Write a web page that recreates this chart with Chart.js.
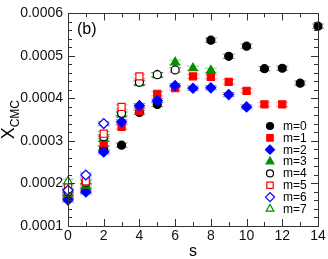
<!DOCTYPE html>
<html><head><meta charset="utf-8">
<script src="https://cdn.jsdelivr.net/npm/chart.js@4/dist/chart.umd.min.js"></script>
<style>html,body{margin:0;padding:0;background:#fff;}canvas{display:block;}</style>
</head><body>
<canvas id="c" width="328" height="259"></canvas>
<script>
const sValues = [0,1,2,3,4,5,6,7,8,9,10,11,12,13,14];
const xTicks = [0,2,4,6,8,10,12,14];
const yTicks = [0.0001,0.0002,0.0003,0.0004,0.0005,0.0006];
const seriesNames = ['m=0','m=1','m=2','m=3','m=4','m=5','m=6','m=7'];
const m0 = [0.000167,0.000183,0.000282,0.000290,0.000367,0.000386,null,null,0.000537,0.000499,0.000523,0.000470,0.000471,0.000436,0.000570];
const m1 = [0.000170,0.000189,0.000294,0.000333,0.000371,0.000411,0.000424,0.000452,0.000451,0.000439,0.000418,0.000386,0.000386,null,null];
const m2 = [0.000161,0.000180,0.000274,0.000345,0.000383,0.000395,0.000430,0.000424,0.000425,0.000409,0.000380,null,null,null,null];
const m3 = [0.000176,0.000195,0.000305,0.000362,0.000436,0.000455,0.000485,0.000471,0.000466,null,null,null,null,null,null];
const m4 = [0.000180,0.000203,0.000310,0.000365,0.000438,0.000456,0.000467,null,null,null,null,null,null,null,null];
const m5 = [0.000191,0.000205,0.000317,0.000380,0.000452,null,null,null,null,null,null,null,null,null,null];
const m6 = [0.000184,0.000220,0.000341,null,null,null,null,null,null,null,null,null,null,null,null];
const m7 = [0.000205,null,null,null,null,null,null,null,null,null,null,null,null,null,null];
const errValue = 0.000005;

const allSeries = [m0,m1,m2,m3,m4,m5,m6,m7];
const colors = ['#000000','#ff0000','#0000ff','#009000','#000000','#ff0000','#0000ff','#009000'];
const styles = ['circle','rect','rectRot','triangle','circle','rect','rectRot','triangle'];
const filled = [true,true,true,true,false,false,false,false];
const radii = [4,5,5,5,4,5,5,5];

const datasets = allSeries.map((arr,i)=>({
  label: seriesNames[i],
  data: sValues.map((s,k)=>arr[k]==null?null:{x:s,y:arr[k]}).filter(p=>p),
  pointStyle: styles[i],
  pointRadius: radii[i],
  pointHoverRadius: radii[i],
  borderWidth: 1.2,
  borderColor: colors[i],
  backgroundColor: filled[i]?colors[i]:'#ffffff',
  showLine: false,
  clip: false,
  order: 7-i
}));

const font = 'Liberation Sans, Arial, sans-serif';

const framePlugin = {
  id:'frame',
  beforeDatasetsDraw(chart){
    const ctx = chart.ctx, xs = chart.scales.x, ys = chart.scales.y;
    ctx.save();
    ctx.lineWidth = 1;
    chart.data.datasets.forEach((ds,i)=>{
      ctx.strokeStyle = colors[i];
      ctx.globalAlpha = 0.45;
      ds.data.forEach(p=>{
        const px = xs.getPixelForValue(p.x);
        const y1 = ys.getPixelForValue(p.y+errValue), y2 = ys.getPixelForValue(p.y-errValue);
        ctx.beginPath();
        ctx.moveTo(px,y1); ctx.lineTo(px,y2);
        ctx.moveTo(px-6,y1); ctx.lineTo(px+6,y1);
        ctx.moveTo(px-6,y2); ctx.lineTo(px+6,y2);
        ctx.stroke();
      });
    });
    ctx.restore();
  },
  afterDraw(chart){
    const ctx = chart.ctx, a = chart.chartArea, xs = chart.scales.x, ys = chart.scales.y;
    ctx.save();
    ctx.strokeStyle = '#333';
    ctx.lineWidth = 1;
    ctx.strokeRect(Math.round(a.left)+0.5, Math.round(a.top)+0.5, Math.round(a.right-a.left), Math.round(a.bottom-a.top));
    ctx.beginPath();
    for(let v=0; v<=14; v++){
      const px = Math.round(xs.getPixelForValue(v))+0.5;
      const L = v%2===0 ? 7 : 4;
      ctx.moveTo(px,a.bottom); ctx.lineTo(px,a.bottom-L);
      ctx.moveTo(px,a.top); ctx.lineTo(px,a.top+L);
    }
    for(let k=0; k<=25; k++){
      const v = 0.0001 + k*0.00002;
      const py = Math.round(ys.getPixelForValue(v))+0.5;
      const L = k%5===0 ? 7 : 4;
      ctx.moveTo(a.left,py); ctx.lineTo(a.left+L,py);
      ctx.moveTo(a.right,py); ctx.lineTo(a.right-L,py);
    }
    ctx.stroke();
    ctx.fillStyle = '#000';
    ctx.font = '16px '+font;
    ctx.textBaseline = 'alphabetic';
    ctx.textAlign = 'left';
    ctx.fillText('(b)', a.left+9, a.top+21);
    ctx.font = '16px '+font;
    ctx.textAlign = 'center';
    ctx.fillText('s', (a.left+a.right)/2, 256);
    ctx.save();
    ctx.translate(14, (a.top+a.bottom)/2);
    ctx.rotate(-Math.PI/2);
    ctx.textAlign = 'left';
    ctx.font = '18px '+font;
    const wX = ctx.measureText('X').width;
    ctx.font = '12px '+font;
    const wC = ctx.measureText('CMC').width;
    const start = -(wX+wC)/2;
    ctx.font = '18px '+font;
    ctx.fillText('X', start, 0);
    ctx.font = '12px '+font;
    ctx.fillText('CMC', start+wX, 5);
    ctx.restore();
    const lx = 270, tx = 283, ly0 = 126, dy = 11.85;
    ctx.font = '12px '+font;
    ctx.textAlign = 'left';
    ctx.textBaseline = 'middle';
    seriesNames.forEach((name,i)=>{
      const y = ly0 + i*dy;
      ctx.fillStyle = filled[i]?colors[i]:'#ffffff';
      ctx.strokeStyle = colors[i];
      ctx.lineWidth = 1.2;
      Chart.helpers.drawPoint(ctx, {pointStyle:styles[i], radius:radii[i]-0.5, borderWidth:1.2, rotation:0}, lx, y);
      ctx.fillStyle = '#000';
      ctx.fillText(name, tx, y+0.5);
    });
    ctx.restore();
  }
};

new Chart(document.getElementById('c'), {
  type: 'scatter',
  data: { datasets },
  options: {
    responsive: false,
    animation: false,
    devicePixelRatio: 1,
    layout: { padding: { top: 5, right: 10, left: 0, bottom: 0 } },
    plugins: { legend: { display: false }, tooltip: { enabled: false } },
    scales: {
      x: {
        type: 'linear', min: 0, max: 14,
        afterFit(s){ s.height = 33; },
        afterBuildTicks(s){ s.ticks = xTicks.map(v=>({value:v})); },
        grid: { display: false, drawTicks: false },
        border: { display: false },
        ticks: { color: '#111', font: { family: font, size: 14 }, padding: 2, maxRotation: 0, autoSkip: false }
      },
      y: {
        type: 'linear', min: 0.0001, max: 0.0006,
        afterFit(s){ s.width = 68; },
        afterBuildTicks(s){ s.ticks = yTicks.map(v=>({value:v})); },
        grid: { display: false, drawTicks: false },
        border: { display: false },
        ticks: { color: '#111', font: { family: font, size: 14 }, padding: 5, callback: v=>Number(v).toFixed(4) }
      }
    }
  },
  plugins: [framePlugin]
});
</script>
</body></html>
